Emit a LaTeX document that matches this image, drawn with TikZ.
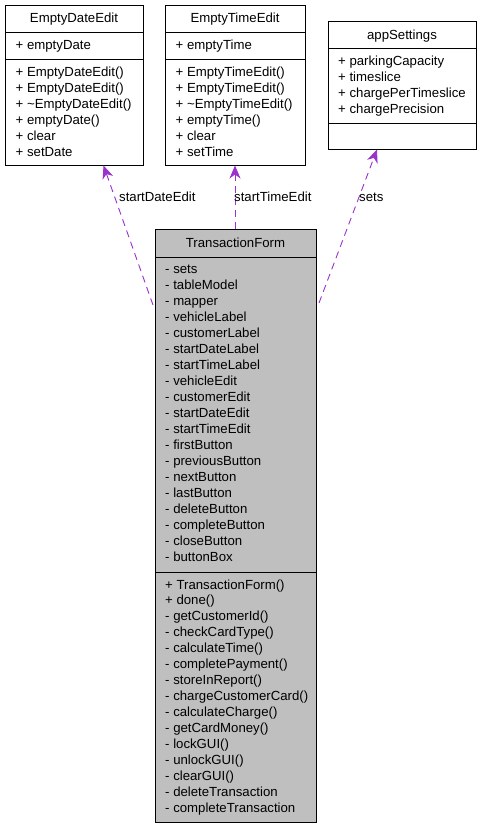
\documentclass[tikz,border=0pt]{standalone}
\usepackage{fontspec}
\setmainfont{Liberation Sans}
\usetikzlibrary{arrows.meta}
\definecolor{edgec}{HTML}{9A32CD}
\definecolor{tfgray}{HTML}{BFBFBF}
\begin{document}
\begin{tikzpicture}[x=1pt,y=-1pt,
  cls/.style={draw=black,line width=1pt,anchor=north west,inner sep=0pt,outer sep=0pt},
  sep/.style={draw=black,line width=1pt},
  mem/.style={anchor=base west,inner sep=0pt,font=\fontsize{13.2}{15}\selectfont},
  ttl/.style={anchor=base,inner sep=0pt,font=\fontsize{13.2}{15}\selectfont},
  lbl/.style={anchor=base west,inner sep=0pt,font=\fontsize{13.2}{15}\selectfont},
  rel/.style={draw=edgec,line width=0.9pt,dash pattern=on 7pt off 5pt,
    -{Stealth[length=13pt,width=11pt,inset=4pt]}}]
\useasboundingbox[fill=white] (0,0) rectangle (480,827);

% ---------- EmptyDateEdit
\node[cls,minimum width=138pt,minimum height=160pt] (ede) at (5,5) {};
\draw[sep] (5,32) -- (143,32);
\draw[sep] (5,59) -- (143,59);
\node[ttl] (edet) at (74,23) {EmptyDateEdit};
\node[mem] (ede1) at (15.5,49) {+ emptyDate};
\node[mem] (ede2) at (15.5,76) {+ EmptyDateEdit()};
\node[mem] (ede3) at (15.5,92) {+ EmptyDateEdit()};
\node[mem] (ede4) at (15.5,108) {+ \textasciitilde EmptyDateEdit()};
\node[mem] (ede5) at (15.5,124) {+ emptyDate()};
\node[mem] (ede6) at (15.5,140) {+ clear};
\node[mem] (ede7) at (15.5,156) {+ setDate};

% ---------- EmptyTimeEdit
\node[cls,minimum width=140pt,minimum height=160pt] (ete) at (165,5) {};
\draw[sep] (165,32) -- (305,32);
\draw[sep] (165,59) -- (305,59);
\node[ttl] (etet) at (235,23) {EmptyTimeEdit};
\node[mem] (ete1) at (175.5,49) {+ emptyTime};
\node[mem] (ete2) at (175.5,76) {+ EmptyTimeEdit()};
\node[mem] (ete3) at (175.5,92) {+ EmptyTimeEdit()};
\node[mem] (ete4) at (175.5,108) {+ \textasciitilde EmptyTimeEdit()};
\node[mem] (ete5) at (175.5,124) {+ emptyTime()};
\node[mem] (ete6) at (175.5,140) {+ clear};
\node[mem] (ete7) at (175.5,156) {+ setTime};

% ---------- appSettings
\node[cls,minimum width=148pt,minimum height=128pt] (aps) at (328,21) {};
\draw[sep] (328,48) -- (476,48);
\draw[sep] (328,123) -- (476,123);
\node[ttl] (apst) at (402,39) {appSettings};
\node[mem] (aps1) at (338,65.5) {+ parkingCapacity};
\node[mem] (aps2) at (338,81.5) {+ timeslice};
\node[mem] (aps3) at (338,97) {+ chargePerTimeslice};
\node[mem] (aps4) at (338,113) {+ chargePrecision};

% ---------- TransactionForm
\node[cls,fill=tfgray,minimum width=161pt,minimum height=593pt] (tf) at (155,229) {};
\draw[sep] (155,257) -- (316,257);
\draw[sep] (155,572) -- (316,572);
\node[ttl] (tft) at (235.5,247) {TransactionForm};
\foreach \t [count=\i from 0] in {sets,tableModel,mapper,vehicleLabel,customerLabel,
  startDateLabel,startTimeLabel,vehicleEdit,customerEdit,startDateEdit,startTimeEdit,
  firstButton,previousButton,nextButton,lastButton,deleteButton,completeButton,
  closeButton,buttonBox}
  \node[mem] (tfa\i) at (165,273.5+16*\i) {- \t};
\foreach \t/\v [count=\i from 0] in {TransactionForm()/+,done()/+,getCustomerId()/-,
  checkCardType()/-,calculateTime()/-,completePayment()/-,storeInReport()/-,
  chargeCustomerCard()/-,calculateCharge()/-,getCardMoney()/-,lockGUI()/-,
  unlockGUI()/-,clearGUI()/-,deleteTransaction/-,completeTransaction/-}
  \node[mem] (tfm\i) at (165,589+15.96*\i) {\v{} \t};

% ---------- relations
\coordinate (r1s) at (153,305);
\coordinate (r1e) at (103.5,165.5);
\coordinate (r2s) at (235,229);
\coordinate (r2e) at (235,165.5);
\coordinate (r3s) at (319,303);
\coordinate (r3e) at (377,149.5);
\draw[rel] (r1s) -- (r1e);
\draw[rel] (r2s) -- (r2e);
\draw[rel] (r3s) -- (r3e);
\node[lbl] (l1) at (119,201.5) {startDateEdit};
\node[lbl] (l2) at (234,201.5) {startTimeEdit};
\node[lbl] (l3) at (359,201.5) {sets};
\end{tikzpicture}
\end{document}
